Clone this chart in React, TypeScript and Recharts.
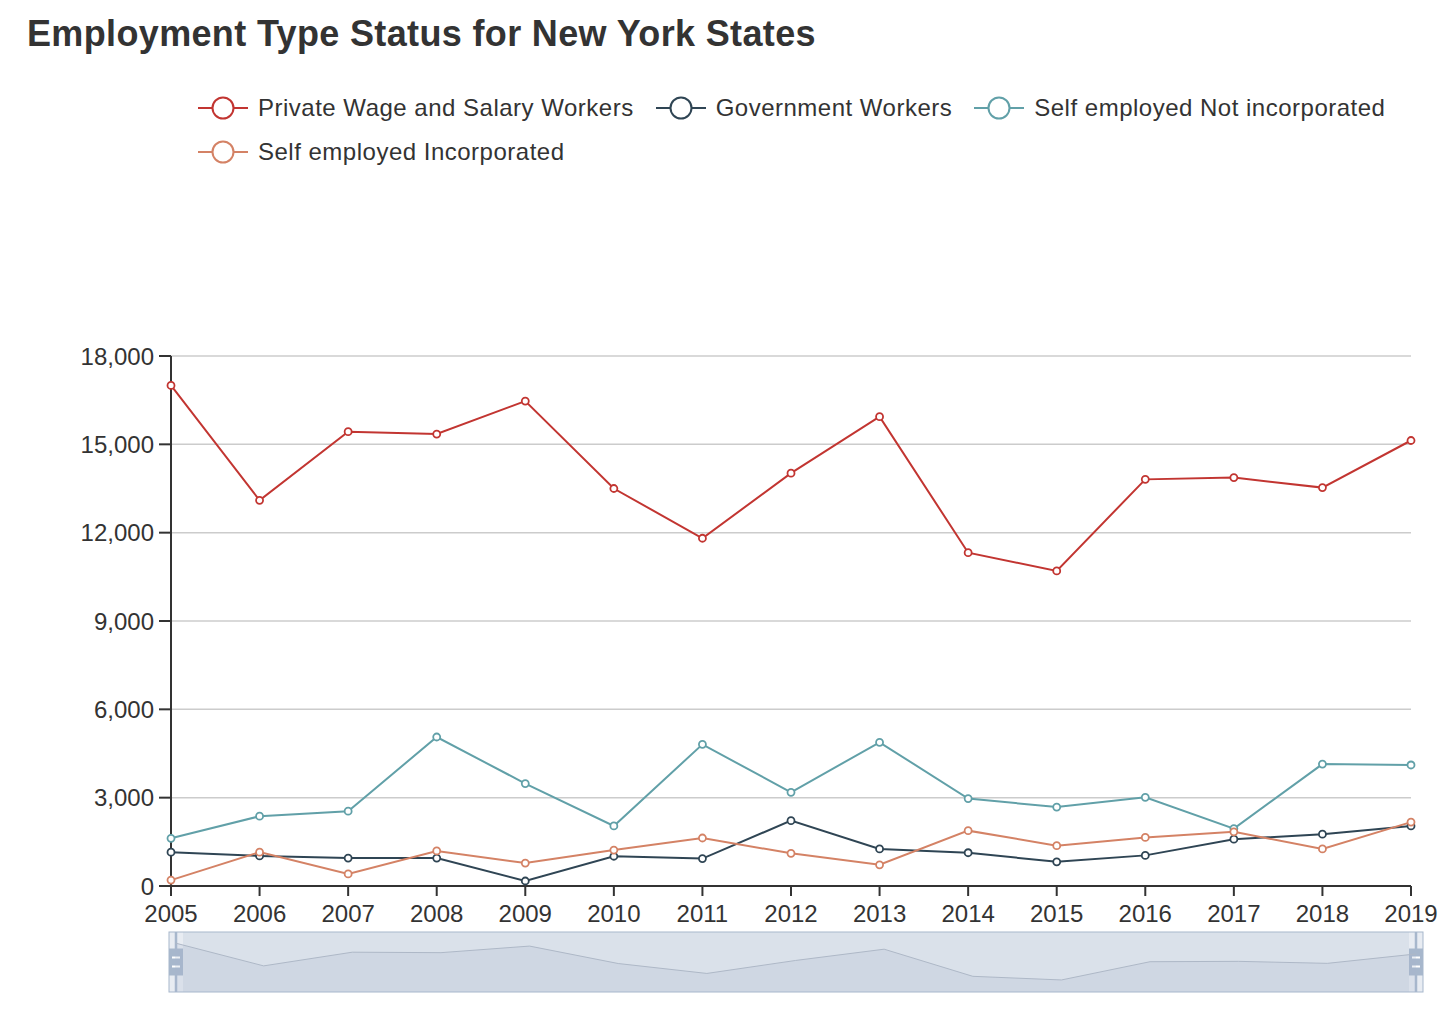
import { FC } from "react";
import {
  LineChart,
  Line,
  XAxis,
  YAxis,
  CartesianGrid,
  Brush,
  AreaChart,
  Area,
} from "recharts";

const years = [
  "2005", "2006", "2007", "2008", "2009", "2010", "2011", "2012",
  "2013", "2014", "2015", "2016", "2017", "2018", "2019",
];

const privateWage = [
  17000, 13100, 15430, 15350, 16470, 13500, 11810, 14020,
  15940, 11320, 10700, 13810, 13870, 13530, 15130,
];
const government = [
  1150, 1020, 950, 950, 170, 1010, 930, 2220,
  1260, 1130, 820, 1040, 1590, 1760, 2040,
];
const selfNotInc = [
  1620, 2370, 2540, 5060, 3480, 2040, 4810, 3180,
  4880, 2970, 2680, 3010, 1950, 4140, 4110,
];
const selfInc = [
  200, 1150, 410, 1190, 780, 1220, 1630, 1110,
  720, 1880, 1370, 1650, 1840, 1260, 2170,
];

const yTicks = [0, 3000, 6000, 9000, 12000, 15000, 18000];

const seriesList = [
  { key: "privateWage", name: "Private Wage and Salary Workers", color: "#c23531" },
  { key: "government", name: "Government Workers", color: "#2f4554" },
  { key: "selfNotInc", name: "Self employed Not incorporated", color: "#61a0a8" },
  { key: "selfInc", name: "Self employed Incorporated", color: "#d48265" },
];

const legendRows = [
  ["privateWage", "government", "selfNotInc"],
  ["selfInc"],
];

const data = years.map((year, i) => ({
  year,
  privateWage: privateWage[i],
  government: government[i],
  selfNotInc: selfNotInc[i],
  selfInc: selfInc[i],
}));

const FONT = '"Liberation Sans", Arial, Helvetica, sans-serif';

const LegendIcon: FC<{ color: string }> = ({ color }) => (
  <svg width={50} height={24} style={{ display: "block" }}>
    <line x1={0} y1={12} x2={50} y2={12} stroke={color} strokeWidth={2} />
    <circle cx={25} cy={12} r={10.5} fill="#fff" stroke={color} strokeWidth={2} />
  </svg>
);

// slider handle drawn like the echarts dataZoom handle
const Handle = (props: any) => {
  const { x, y, width, height } = props;
  const cx = x + width / 2;
  const hh = 27;
  const top = y + (height - hh) / 2;
  return (
    <g>
      <line x1={cx} y1={y} x2={cx} y2={y + height} stroke="#a7b7cc" strokeWidth={2.5} />
      <rect x={cx - 7} y={top} width={14} height={hh} fill="#a7b7cc" />
      <rect x={cx - 4} y={top + 8} width={8} height={2} fill="#fff" />
      <rect x={cx - 4} y={top + 17} width={8} height={2} fill="#fff" />
    </g>
  );
};

const fmt = (v: number) => v.toLocaleString("en-US");

export default function App() {
  const byKey: Record<string, (typeof seriesList)[number]> = {};
  seriesList.forEach((s) => (byKey[s.key] = s));

  return (
    <div
      style={{
        position: "absolute",
        left: 0,
        top: 0,
        width: 1456,
        height: 1018,
        background: "#fff",
        fontFamily: FONT,
        color: "#333",
      }}
    >
      <div
        style={{
          position: "absolute",
          left: 27,
          top: 13,
          fontSize: 36,
          fontWeight: "bold",
          letterSpacing: 0.35,
          color: "#333",
          whiteSpace: "nowrap",
        }}
      >
        Employment Type Status for New York States
      </div>
      {legendRows.map((row, ri) => (
        <div
          key={ri}
          style={{
            position: "absolute",
            left: 198,
            top: 94 + ri * 44,
            display: "flex",
            alignItems: "center",
            whiteSpace: "nowrap",
          }}
        >
          {row.map((k) => (
            <div key={k} style={{ display: "flex", alignItems: "center", marginRight: 22 }}>
              <LegendIcon color={byKey[k].color} />
              <span style={{ marginLeft: 10, fontSize: 24, letterSpacing: 0.5, color: "#333" }}>
                {byKey[k].name}
              </span>
            </div>
          ))}
        </div>
      ))}
      <LineChart
        width={1456}
        height={1018}
        data={data}
        margin={{ top: 356, right: 45, bottom: 42, left: 0 }}
        style={{ position: "absolute", left: 0, top: 0 }}
      >
        <CartesianGrid vertical={false} stroke="#ccc" strokeWidth={1.5} />
        <XAxis
          dataKey="year"
          height={30}
          tick={{ fill: "#333", fontSize: 24, fontFamily: FONT }}
          axisLine={{ stroke: "#333", strokeWidth: 2 }}
          tickLine={{ stroke: "#333", strokeWidth: 2 }}
          tickSize={10}
          tickMargin={9}
          interval={0}
        />
        <YAxis
          width={171}
          domain={[0, 18000]}
          ticks={yTicks}
          tickFormatter={fmt}
          tick={{ fill: "#333", fontSize: 24, fontFamily: FONT }}
          axisLine={{ stroke: "#333", strokeWidth: 2 }}
          tickLine={{ stroke: "#333", strokeWidth: 2 }}
          tickSize={12}
          tickMargin={5}
        />
        {seriesList.map((s) => (
          <Line
            key={s.key}
            type="linear"
            dataKey={s.key}
            name={s.name}
            stroke={s.color}
            strokeWidth={2}
            dot={{ r: 3.5, fill: "#fff", stroke: s.color, strokeWidth: 1.8 }}
            isAnimationActive={false}
          />
        ))}
        <Brush
          dataKey="year"
          x={169}
          y={932}
          width={1254}
          height={60}
          fill="#e8ecf2"
          stroke="#a7b7cc"
          travellerWidth={14}
          traveller={<Handle />}
        />
      </LineChart>
      {/* data-zoom preview of the first series, laid over the brush */}
      <div style={{ position: "absolute", left: 175, top: 932, pointerEvents: "none" }}>
        <AreaChart width={1241} height={60} data={data} margin={{ top: 0, right: 0, bottom: 0, left: 0 }}>
          <XAxis dataKey="year" hide />
          <YAxis hide domain={[8650, 18870]} />
          <Area
            type="linear"
            dataKey="privateWage"
            stroke="#aeb8c7"
            strokeWidth={1}
            fill="#a7b7cc"
            fillOpacity={0.22}
            dot={false}
            isAnimationActive={false}
          />
        </AreaChart>
      </div>
    </div>
  );
}
